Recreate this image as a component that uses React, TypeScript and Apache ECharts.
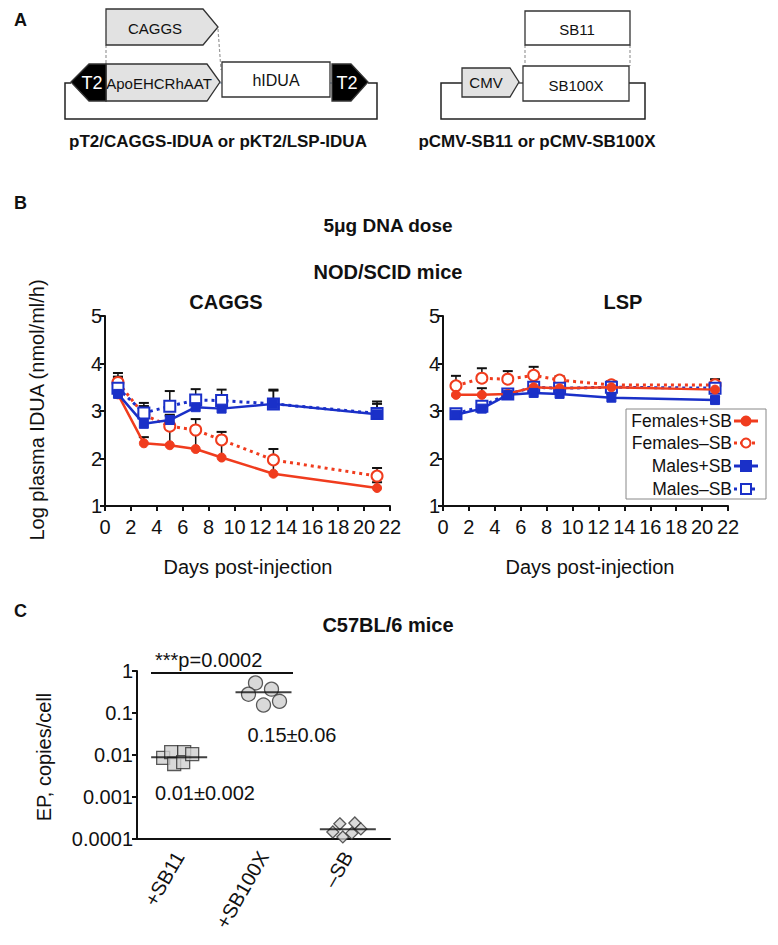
import React, { useEffect, useRef } from "react";
import * as echarts from "echarts";

// ---------- Data ----------
const days = [1, 3, 5, 7, 9, 13, 21];
const dayTicks = [0, 22, 2];

// CAGGS panel (log plasma IDUA), means and upper error
const caggsFemSB = [3.35, 2.32, 2.28, 2.2, 2.02, 1.68, 1.38];
const caggsFemSBTop = [3.72, 2.45, 2.7, 2.6, 2.35, 1.95, 1.5];
const caggsFemNoSB = [3.6, 2.92, 2.68, 2.6, 2.39, 1.97, 1.63];
const caggsFemNoSBTop = [3.8, 3.1, 2.9, 2.83, 2.56, 2.2, 1.8];
const caggsMalSB = [3.36, 2.73, 2.81, 3.08, 3.05, 3.15, 2.93];
const caggsMalSBTop = [3.6, 3.1, 2.92, 3.3, 3.3, 3.43, 3.15];
const caggsMalNoSB = [3.48, 2.96, 3.1, 3.23, 3.22, 3.15, 2.95];
const caggsMalNoSBTop = [3.72, 3.17, 3.42, 3.46, 3.45, 3.45, 3.2];

// LSP panel
const lspFemSB = [3.34, 3.34, 3.36, 3.5, 3.48, 3.5, 3.45];
const lspFemSBTop = [3.5, 3.48, 3.45, 3.6, 3.6, 3.58, 3.6];
const lspFemNoSB = [3.53, 3.69, 3.67, 3.75, 3.65, 3.55, 3.55];
const lspFemNoSBTop = [3.74, 3.9, 3.84, 3.93, 3.73, 3.63, 3.67];
const lspMalSB = [2.92, 3.05, 3.34, 3.38, 3.36, 3.28, 3.23];
const lspMalSBTop = [3.0, 3.15, 3.45, 3.45, 3.42, 3.35, 3.3];
const lspMalNoSB = [2.94, 3.1, 3.36, 3.5, 3.48, 3.5, 3.48];
const lspMalNoSBTop = [3.0, 3.2, 3.45, 3.6, 3.58, 3.6, 3.6];

const legendNames = ["Females+SB", "Females\u2013SB", "Males+SB", "Males\u2013SB"];

// Panel C (EP copies/cell, log scale)
const groupsC = ["+SB11", "+SB100X", "\u2013SB"];
const sb11Vals = [0.0085, 0.0117, 0.0061, 0.0117, 0.0068, 0.0105];
const sb11Jitter = [-16, -8, -5, 5, 4, 13];
const sb100xVals = [0.52, 0.28, 0.37, 0.155, 0.19];
const sb100xJitter = [-8, -15, 8, 0, 16];
const noSBVals = [0.00023, 0.00024, 0.000147, 0.000174, 0.000112, 0.000138];
const noSBJitter = [-8, 7, -15, 13, -5, 4];
const meansC = [0.0089, 0.31, 0.00017];
const yTicksC = ["0.0001", "0.001", "0.01", "0.1", "1"];

const RED = "#f03c1e";
const BLUE = "#1a30c8";
const FONT = "Liberation Sans";
const TICK_FS = 20;

function errSeries(idx: number, vals: number[], tops: number[]) {
  return {
    type: "custom",
    xAxisIndex: idx,
    yAxisIndex: idx,
    silent: true,
    z: 1,
    data: days.map((d, i) => [d, vals[i], tops[i]]),
    renderItem: (_p: any, api: any) => {
      const p0 = api.coord([api.value(0), api.value(1)]);
      const p1 = api.coord([api.value(0), api.value(2)]);
      return {
        type: "group",
        children: [
          { type: "line", shape: { x1: p0[0], y1: p0[1], x2: p1[0], y2: p1[1] }, style: { stroke: "#111", lineWidth: 1.5 } },
          { type: "line", shape: { x1: p1[0] - 5, y1: p1[1], x2: p1[0] + 5, y2: p1[1] }, style: { stroke: "#111", lineWidth: 2 } },
        ],
      };
    },
  };
}

function lineSeries(idx: number, vals: number[], kind: number) {
  const color = kind < 2 ? RED : BLUE;
  const open = kind % 2 === 1;
  return {
    type: "line",
    name: legendNames[kind],
    xAxisIndex: idx,
    yAxisIndex: idx,
    data: days.map((d, i) => [d, vals[i]]),
    symbol: kind < 2 ? "circle" : "rect",
    symbolSize: open ? 11 : 9,
    showSymbol: true,
    z: open ? 3 : 4,
    lineStyle: { color, width: open ? 3 : 2.5, type: open ? [3, 4] : "solid" },
    itemStyle: open
      ? { color: "#fff", borderColor: color, borderWidth: 2 }
      : { color, borderColor: color, borderWidth: 1 },
  };
}

function valueAxes(idx: number) {
  const common = {
    axisLine: { show: true, lineStyle: { color: "#111", width: 2 } },
    axisTick: { show: true, length: 5, lineStyle: { color: "#111", width: 2 } },
    splitLine: { show: false },
  };
  return {
    x: {
      type: "value",
      gridIndex: idx,
      min: dayTicks[0],
      max: dayTicks[1],
      interval: dayTicks[2],
      ...common,
      axisLabel: { fontFamily: FONT, fontSize: TICK_FS, color: "#111", margin: 11 },
    },
    y: {
      type: "value",
      gridIndex: idx,
      min: 1,
      max: 5,
      interval: 1,
      ...common,
      axisLabel: { fontFamily: FONT, fontSize: TICK_FS, color: "#111", margin: 3 },
    },
  };
}

function txt(x: number, y: number, text: string, size: number, opts: any = {}) {
  return {
    type: "text",
    x,
    y,
    rotation: opts.rotation || 0,
    style: {
      text,
      fontFamily: FONT,
      fontSize: size,
      fontWeight: opts.bold ? "bold" : "normal",
      fill: opts.fill || "#111",
      textAlign: opts.align || "center",
      textVerticalAlign: opts.valign || "middle",
    },
  };
}

const GREY = "#e2e2e2";
const STROKE = "#333";

function poly(points: number[][], fill: string) {
  return { type: "polygon", shape: { points }, style: { fill, stroke: STROKE, lineWidth: 1.3 } };
}
function dash(x1: number, y1: number, x2: number, y2: number) {
  return { type: "line", shape: { x1, y1, x2, y2 }, style: { stroke: "#999", lineWidth: 1.2, lineDash: [3, 2] } };
}
function pl(points: number[][]) {
  return { type: "polyline", shape: { points }, style: { stroke: "#222", lineWidth: 1.5, fill: null } };
}

function buildGraphic() {
  const g: any[] = [];
  // Panel letters
  g.push(txt(14, 20, "A", 18, { bold: true, align: "left" }));
  g.push(txt(14, 203, "B", 18, { bold: true, align: "left" }));
  g.push(txt(14, 611, "C", 18, { bold: true, align: "left" }));

  // ---- Panel A left construct ----
  g.push(dash(106, 45, 106, 64));
  g.push(dash(218, 29, 221, 70));
  g.push(poly([[106, 9], [203, 9], [218, 27], [203, 45], [106, 45]], GREY));
  g.push(txt(155, 28, "CAGGS", 15));
  g.push(pl([[71, 83], [65, 83], [65, 119], [377, 119], [377, 83], [368, 83]]));
  g.push({ type: "line", shape: { x1: 220, y1: 83, x2: 222, y2: 83 }, style: { stroke: "#6a8ab0", lineWidth: 1 } });
  g.push({ type: "line", shape: { x1: 330, y1: 83, x2: 332, y2: 83 }, style: { stroke: "#6a8ab0", lineWidth: 1 } });
  g.push(poly([[106, 64], [207, 64], [220, 82], [207, 101], [106, 101]], GREY));
  g.push(txt(159, 83, "ApoEHCRhAAT", 15));
  g.push(poly([[71, 82], [89, 64], [106, 64], [106, 101], [89, 101]], "#000"));
  g.push(txt(92, 83, "T2", 18, { fill: "#fff" }));
  g.push({ type: "rect", shape: { x: 222, y: 62, width: 108, height: 35 }, style: { fill: "#fff", stroke: STROKE, lineWidth: 1.3 } });
  g.push(txt(276, 80, "hIDUA", 16));
  g.push(poly([[332, 64], [351, 64], [368, 82], [351, 101], [332, 101]], "#000"));
  g.push(txt(347, 83, "T2", 18, { fill: "#fff" }));
  g.push(txt(218, 141, "pT2/CAGGS-IDUA or pKT2/LSP-IDUA", 17, { bold: true }));

  // ---- Panel A right construct ----
  g.push(dash(525, 45, 525, 66));
  g.push(dash(630, 45, 630, 66));
  g.push({ type: "rect", shape: { x: 525, y: 11, width: 105, height: 34 }, style: { fill: "#fff", stroke: STROKE, lineWidth: 1.3 } });
  g.push(txt(577, 29, "SB11", 15));
  g.push(pl([[462, 83], [441, 83], [441, 119], [645, 119], [645, 83], [629, 83]]));
  g.push({ type: "line", shape: { x1: 519, y1: 83, x2: 523, y2: 83 }, style: { stroke: "#222", lineWidth: 1.2 } });
  g.push({ type: "rect", shape: { x: 523, y: 66, width: 106, height: 35 }, style: { fill: "#fff", stroke: STROKE, lineWidth: 1.3 } });
  g.push(txt(576, 85, "SB100X", 15));
  g.push(poly([[462, 68], [510, 68], [519, 82], [510, 97], [462, 97]], GREY));
  g.push(txt(486, 82, "CMV", 15));
  g.push(txt(537, 141, "pCMV-SB11 or pCMV-SB100X", 17, { bold: true }));

  // ---- Panel B titles ----
  g.push(txt(388, 225, "5\u03bcg DNA dose", 19, { bold: true }));
  g.push(txt(388, 272, "NOD/SCID mice", 20, { bold: true }));
  g.push(txt(226, 302, "CAGGS", 20, { bold: true }));
  g.push(txt(623, 302, "LSP", 20, { bold: true }));
  g.push(txt(37, 410, "Log plasma IDUA (nmol/ml/h)", 20, { rotation: Math.PI / 2 }));
  g.push(txt(248, 567, "Days post-injection", 20));
  g.push(txt(590, 567, "Days post-injection", 20));

  // ---- Legend (panel B right) ----
  g.push({ type: "rect", shape: { x: 626, y: 409, width: 140, height: 90 }, style: { fill: "#fff", stroke: "#888", lineWidth: 1 }, z: 10 });
  const ly = [421, 443, 466, 489];
  legendNames.forEach((n, i) => {
    const color = i < 2 ? RED : BLUE;
    const open = i % 2 === 1;
    g.push({ ...txt(732, ly[i], n, 17.5, { align: "right" }), z: 11 });
    g.push({
      type: "line",
      z: 11,
      shape: { x1: 734, y1: ly[i], x2: 758, y2: ly[i] },
      style: { stroke: color, lineWidth: 3, lineDash: open ? [3, 3] : null },
    });
    if (i < 2) {
      g.push({ type: "circle", z: 12, shape: { cx: 746, cy: ly[i], r: 4.5 }, style: { fill: open ? "#fff" : color, stroke: color, lineWidth: 2 } });
    } else {
      g.push({ type: "rect", z: 12, shape: { x: 741, y: ly[i] - 5, width: 10, height: 10 }, style: { fill: open ? "#fff" : color, stroke: color, lineWidth: 2 } });
    }
  });

  // ---- Panel C ----
  g.push(txt(388, 625, "C57BL/6 mice", 20, { bold: true }));
  g.push(txt(44, 757, "EP, copies/cell", 20, { rotation: Math.PI / 2 }));
  g.push({ type: "line", shape: { x1: 151, y1: 673, x2: 293, y2: 673 }, style: { stroke: "#111", lineWidth: 2 } });
  g.push(txt(155, 660, "***p=0.0002", 20, { align: "left" }));
  g.push(txt(292, 735, "0.15\u00b10.06", 20));
  g.push(txt(205, 793, "0.01\u00b10.002", 20));
  return g;
}

function scatterC(vals: number[], jitter: number[], cat: number, symbol: string, size: number) {
  return {
    type: "scatter",
    xAxisIndex: 2,
    yAxisIndex: 2,
    symbol,
    symbolSize: size,
    z: 3,
    itemStyle: { color: "#d0d0d0", borderColor: "#333", borderWidth: 1.3 },
    data: vals.map((v, i) => ({ value: [cat, v], symbolOffset: [jitter[i], 0] })),
  };
}

export default function App() {
  const ref = useRef<HTMLDivElement>(null);
  useEffect(() => {
    if (!ref.current) return;
    const chart = echarts.init(ref.current, null, { renderer: "svg" });
    const a0 = valueAxes(0);
    const a1 = valueAxes(1);
    const option: any = {
      animation: false,
      backgroundColor: "#fff",
      textStyle: { fontFamily: FONT },
      grid: [
        { left: 105, top: 316, width: 285, height: 190 },
        { left: 443, top: 316, width: 285, height: 190 },
        { left: 137, top: 671, width: 253, height: 168 },
      ],
      xAxis: [
        a0.x,
        a1.x,
        {
          type: "category",
          gridIndex: 2,
          data: groupsC,
          axisLine: { lineStyle: { color: "#111", width: 2 } },
          axisTick: { alignWithLabel: true, length: 5, lineStyle: { color: "#111", width: 2 } },
          axisLabel: { rotate: 60, fontFamily: FONT, fontSize: TICK_FS, color: "#111", margin: 14 },
        },
      ],
      yAxis: [
        a0.y,
        a1.y,
        {
          type: "log",
          gridIndex: 2,
          logBase: 10,
          min: 0.0001,
          max: 1,
          axisLine: { show: true, lineStyle: { color: "#111", width: 2 } },
          axisTick: { show: true, length: 5, lineStyle: { color: "#111", width: 2 } },
          splitLine: { show: false },
          axisLabel: {
            fontFamily: FONT,
            fontSize: TICK_FS,
            color: "#111",
            margin: 4,
            formatter: (v: number) => {
              const k = Math.round(Math.log10(v)) + 4;
              return yTicksC[k] ?? String(v);
            },
          },
        },
      ],
      graphic: buildGraphic(),
      series: [
        errSeries(0, caggsFemSB, caggsFemSBTop),
        errSeries(0, caggsFemNoSB, caggsFemNoSBTop),
        errSeries(0, caggsMalSB, caggsMalSBTop),
        errSeries(0, caggsMalNoSB, caggsMalNoSBTop),
        lineSeries(0, caggsFemSB, 0),
        lineSeries(0, caggsFemNoSB, 1),
        lineSeries(0, caggsMalSB, 2),
        lineSeries(0, caggsMalNoSB, 3),
        errSeries(1, lspFemSB, lspFemSBTop),
        errSeries(1, lspFemNoSB, lspFemNoSBTop),
        errSeries(1, lspMalSB, lspMalSBTop),
        errSeries(1, lspMalNoSB, lspMalNoSBTop),
        lineSeries(1, lspFemSB, 0),
        lineSeries(1, lspFemNoSB, 1),
        lineSeries(1, lspMalSB, 2),
        lineSeries(1, lspMalNoSB, 3),
        scatterC(sb11Vals, sb11Jitter, 0, "rect", 13),
        scatterC(sb100xVals, sb100xJitter, 1, "circle", 14),
        scatterC(noSBVals, noSBJitter, 2, "diamond", 12),
        {
          type: "scatter",
          xAxisIndex: 2,
          yAxisIndex: 2,
          symbol: "rect",
          symbolSize: [56, 2],
          z: 5,
          itemStyle: { color: "#111" },
          data: meansC.map((m, i) => [i, m]),
        },
      ],
    };
    chart.setOption(option);
    return () => chart.dispose();
  }, []);
  return (
    <div
      ref={ref}
      style={{ position: "absolute", left: 0, top: 0, width: 778, height: 945, background: "#fff" }}
    />
  );
}
